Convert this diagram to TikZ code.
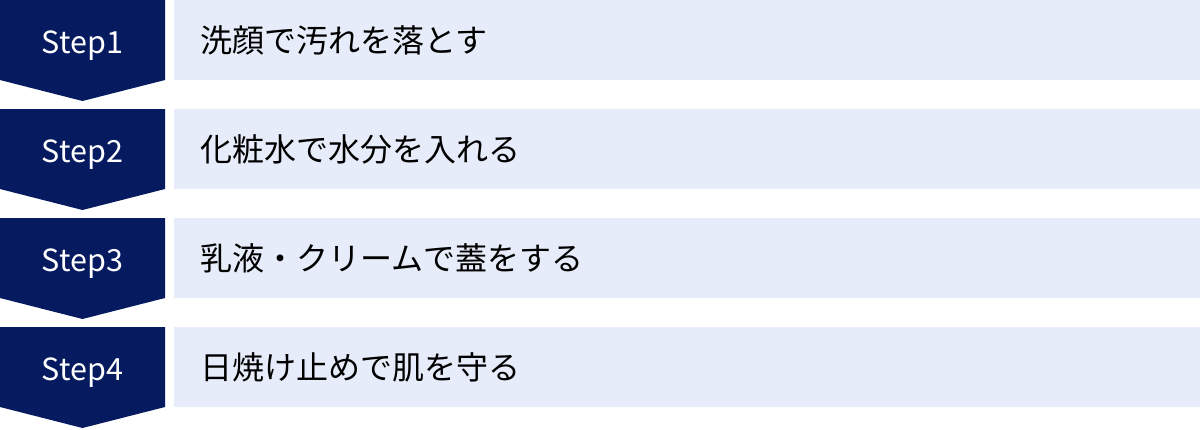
\documentclass[tikz,border=0pt]{standalone}
\usepackage{fontspec}
\setmainfont{Noto Sans CJK JP}
\definecolor{navy}{HTML}{061A60}
\definecolor{pale}{HTML}{E6ECF9}
\tikzset{
  chevron/.style={fill=navy, draw=none},
  steplabel/.style={text=white, font=\fontsize{30.5}{36}\selectfont, anchor=base, inner sep=0pt},
  bar/.style={fill=pale, draw=none, minimum width=1026pt, minimum height=80pt, anchor=north west, inner sep=0pt},
  bartext/.style={font=\fontsize{32}{38}\selectfont, anchor=base west, inner sep=0pt}
}
\begin{document}
\begin{tikzpicture}[x=1pt,y=-1pt]
\useasboundingbox (0,0) rectangle (1200,429);
\foreach \i/\t in {1/洗顔で汚れを落とす, 2/化粧水で水分を入れる, 3/乳液・クリームで蓋をする, 4/日焼け止めで肌を守る}{
  \pgfmathsetmacro{\yy}{(\i-1)*109}
  \fill[chevron] (0,\yy) -- (165,\yy) -- (165,\yy+80) -- (82.5,\yy+101) -- (0,\yy+80) -- cycle;
  \node[steplabel] (step\i) at (82.5,\yy+53) {Step\i};
  \node[bar] (bar\i) at (174,\yy) {};
  \node[bartext] (text\i) at (200,\yy+52) {\t};
}
\end{tikzpicture}
\end{document}
